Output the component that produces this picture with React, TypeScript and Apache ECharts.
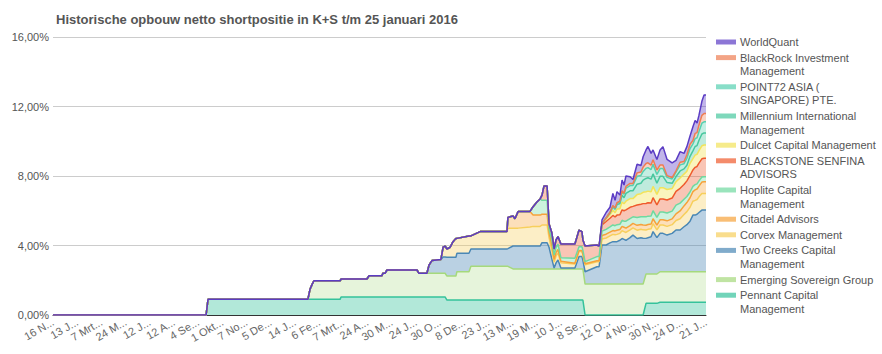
import React, { useEffect, useRef } from 'react';
import * as echarts from 'echarts';

const FONT = 'Arial, "Liberation Sans", Helvetica, sans-serif';

const chartTitle = 'Historische opbouw netto shortpositie in K+S t/m 25 januari 2016';

// Visible (truncated) date labels of the x axis, one per label step
const xTickLabels = [
  '16 N...', '13 J...', '7 Mrt...', '24 M...', '12 J...', '12 A...', '4 Se...', '1 Okt...',
  '7 No...', '5 De...', '14 J...', '6 Fe...', '7 Mrt...', '24 A...', '30 M...', '24 J...',
  '30 O...', '8 De...', '23 J...', '13 M...', '19 M...', '10 J...', '8 Se...', '12 O...',
  '4 No...', '30 N...', '24 D...', '21 J...',
];

// Position of each observation along the date axis (in label steps)
const datePos = [
  0, 6.33, 6.41, 10.54, 10.63, 10.71, 10.79, 11.87, 11.91, 12.98,
  13.07, 13.6, 13.64, 13.73, 13.81, 15.05, 15.13, 15.46, 15.55, 15.67,
  16.04, 16.13, 16.21, 16.29, 16.42, 16.54, 16.66, 16.7, 17.2, 17.28,
  17.66, 18.77, 18.81, 19.02, 19.1, 19.23, 19.72, 19.85, 20.01, 20.14,
  20.22, 20.3, 20.43, 20.51, 20.63, 20.72, 20.8, 20.88, 21.0, 21.58,
  21.75, 21.87, 21.91, 22.0, 22.49, 22.58, 22.7, 22.87, 23.03, 23.15,
  23.24, 23.32, 23.44, 23.53, 23.61, 23.69, 23.86, 23.98, 24.15, 24.31,
  24.4, 24.52, 24.6, 24.73, 24.81, 24.97, 25.1, 25.22, 25.39, 25.6,
  25.76, 25.93, 26.09, 26.21, 26.34, 26.46, 26.55, 26.63, 26.71, 26.83,
  26.92, 27.0,
];

// Net short position per holder (% of shares)
const pennant = [
  0, 0, 0.9, 0.9, 0.9, 0.9, 0.9, 0.9, 1.04, 1.04,
  1.04, 1.04, 1.04, 1.04, 1.04, 1.04, 1.04, 1.04, 1.04, 1.04,
  1.04, 1.04, 1.04, 0.86, 0.86, 0.86, 0.86, 0.86, 0.86, 0.86,
  0.86, 0.86, 0.86, 0.86, 0.86, 0.86, 0.86, 0.86, 0.86, 0.86,
  0.86, 0.86, 0.86, 0.86, 0.86, 0.86, 0.86, 0.86, 0.86, 0.86,
  0.86, 0.86, 0.86, 0, 0, 0, 0, 0, 0, 0,
  0, 0, 0, 0, 0, 0, 0, 0, 0, 0,
  0, 0.67, 0.67, 0.67, 0.67, 0.67, 0.73, 0.73, 0.73, 0.73,
  0.73, 0.73, 0.73, 0.73, 0.73, 0.73, 0.73, 0.73, 0.73, 0.73,
  0.73, 0.73,
];
const emerging = [
  0, 0, 0, 0, 0.6, 0.85, 1.07, 1.07, 1.03, 1.03,
  1.22, 1.22, 1.36, 1.36, 1.55, 1.55, 1.36, 1.36, 1.36, 1.36,
  1.36, 1.36, 1.36, 1.38, 1.38, 1.38, 1.38, 1.63, 1.63, 1.94,
  1.94, 1.94, 1.94, 1.79, 1.79, 1.79, 1.79, 1.79, 1.79, 1.79,
  1.79, 1.79, 1.79, 1.79, 1.79, 1.79, 1.79, 1.79, 1.79, 1.79,
  1.79, 1.79, 1.79, 1.78, 1.78, 1.78, 1.78, 1.78, 1.78, 1.78,
  1.78, 1.78, 1.78, 1.78, 1.78, 1.78, 1.78, 1.78, 1.78, 1.78,
  1.78, 1.69, 1.69, 1.69, 1.69, 1.69, 1.76, 1.76, 1.76, 1.76,
  1.76, 1.76, 1.76, 1.76, 1.76, 1.76, 1.76, 1.76, 1.76, 1.76,
  1.76, 1.76,
];
const twoCreeks = [
  0, 0, 0, 0, 0, 0, 0, 0, 0, 0,
  0, 0, 0, 0, 0, 0, 0, 0, 0.48, 0.73,
  0.8, 0.94, 0.94, 1.08, 1.08, 1.08, 1.08, 1.06, 1.06, 1.0,
  1.0, 1.0, 1.02, 1.32, 1.32, 1.32, 1.32, 1.32, 1.32, 1.32,
  1.51, 1.51, 1.51, 1.25, 0.55, 0.05, 0.35, 0.52, 0.05, 0.05,
  0.71, 0.71, 0.5, 0.71, 1.0, 1.0, 2.25, 2.25, 2.37, 2.44,
  2.44, 2.44, 2.52, 2.62, 2.57, 2.52, 2.67, 2.82, 2.62, 2.67,
  2.64, 2.05, 2.09, 2.14, 2.44, 2.09, 2.21, 2.21, 2.11, 2.21,
  2.4, 2.4, 2.59, 2.71, 2.91, 3.26, 3.26, 3.31, 3.41, 3.55,
  3.55, 3.55,
];
const corvex = [
  0, 0, 0, 0, 0, 0, 0, 0, 0, 0,
  0, 0, 0, 0, 0, 0, 0, 0, 0, 0,
  0, 0.56, 0.63, 0.48, 0.58, 0.9, 1.09, 0.86, 1.0, 0.75,
  1.0, 1.0, 1.18, 1.03, 1.03, 1.03, 1.09, 1.13, 1.13, 1.13,
  1.02, 1.02, 1.02, 0.55, 0.5, 0.35, 0.4, 0.4, 0.3, 0.23,
  0.3, 0.3, 0.3, 0.4, 0.29, 0.29, 0.35, 0.4, 0.4, 0.42,
  0.4, 0.42, 0.4, 0.45, 0.45, 0.45, 0.45, 0.42, 0.48, 0.48,
  0.48, 0.48, 0.48, 0.46, 0.46, 0.45, 0.48, 0.48, 0.5, 0.5,
  0.55, 0.65, 0.7, 0.75, 0.8, 0.8, 0.85, 0.85, 0.9, 0.95,
  0.96, 0.96,
];
const citadel = [
  0, 0, 0, 0, 0, 0, 0, 0, 0, 0,
  0, 0, 0, 0, 0, 0, 0, 0, 0, 0,
  0, 0, 0, 0, 0, 0, 0, 0, 0, 0,
  0, 0, 0.62, 0.7, 0.54, 0.95, 0.9, 0.65, 0.65, 0.65,
  0.62, 0.62, 0.62, 0.3, 0.3, 0.15, 0.2, 0.2, 0.1, 0.05,
  0.05, 0.05, 0.05, 0.06, 0.05, 0.05, 0.2, 0.22, 0.22, 0.22,
  0.22, 0.24, 0.22, 0.25, 0.25, 0.25, 0.25, 0.25, 0.28, 0.28,
  0.28, 0.28, 0.28, 0.28, 0.28, 0.27, 0.3, 0.3, 0.32, 0.33,
  0.38, 0.45, 0.5, 0.52, 0.55, 0.55, 0.6, 0.6, 0.62, 0.66,
  0.67, 0.67,
];
const hoplite = [
  0, 0, 0, 0, 0, 0, 0, 0, 0, 0,
  0, 0, 0, 0, 0, 0, 0, 0, 0, 0,
  0, 0, 0, 0, 0, 0, 0, 0, 0, 0,
  0, 0, 0, 0, 0, 0, 0, 0.48, 0.75, 0.93,
  0.8, 0.8, 0.8, 0.2, 0.3, 0.25, 0.3, 0.3, 0.2, 0.28,
  0.22, 0.22, 0.22, 0.12, 0.24, 0.24, 0.25, 0.28, 0.3, 0.32,
  0.3, 0.32, 0.3, 0.35, 0.35, 0.4, 0.4, 0.38, 0.45, 0.45,
  0.48, 0.48, 0.48, 0.46, 0.46, 0.45, 0.45, 0.45, 0.45, 0.45,
  0.5, 0.45, 0.38, 0.35, 0.33, 0.3, 0.3, 0.3, 0.3, 0.29,
  0.29, 0.29,
];
const blackstone = [
  0, 0, 0, 0, 0, 0, 0, 0, 0, 0,
  0, 0, 0, 0, 0, 0, 0, 0, 0, 0,
  0, 0, 0, 0, 0, 0, 0, 0, 0, 0,
  0, 0, 0, 0, 0, 0, 0, 0, 0, 0,
  0.3, 0.82, 0.82, 0.3, 0.4, 0.35, 0.42, 0.44, 0.79, 0.83,
  0.96, 0.87, 0.6, 0.9, 0.67, 0.6, 0.35, 0.45, 0.5, 0.55,
  0.5, 0.55, 0.55, 0.6, 0.6, 0.65, 0.65, 0.6, 0.72, 0.72,
  0.75, 0.77, 0.77, 0.75, 0.75, 0.72, 0.75, 0.75, 0.75, 0.75,
  0.8, 0.85, 0.85, 0.9, 0.95, 0.95, 1.0, 1.0, 1.02, 1.05,
  1.06, 1.06,
];
const dulcet = [
  0, 0, 0, 0, 0, 0, 0, 0, 0, 0,
  0, 0, 0, 0, 0, 0, 0, 0, 0, 0,
  0, 0, 0, 0, 0, 0, 0, 0, 0, 0,
  0, 0, 0, 0, 0, 0, 0, 0, 0, 0,
  0, 0, 0, 0, 0, 0, 0, 0, 0, 0,
  0, 0, 0, 0, 0, 0, 0.1, 0.15, 0.2, 0.3,
  0.25, 0.35, 0.35, 0.45, 0.4, 0.5, 0.5, 0.45, 0.6, 0.6,
  0.65, 0.67, 0.67, 0.65, 0.65, 0.6, 0.65, 0.65, 0.6, 0.55,
  0.55, 0.6, 0.6, 0.55, 0.7, 0.65, 0.7, 0.7, 0.72, 0.75,
  0.76, 0.76,
];
const millennium = [
  0, 0, 0, 0, 0, 0, 0, 0, 0, 0,
  0, 0, 0, 0, 0, 0, 0, 0, 0, 0,
  0, 0, 0, 0, 0, 0, 0, 0, 0, 0,
  0, 0, 0, 0, 0, 0, 0, 0, 0, 0,
  0, 0, 0, 0, 0, 0, 0, 0, 0, 0,
  0, 0, 0, 0, 0, 0, 0, 0.05, 0.1, 0.2,
  0.2, 0.25, 0.3, 0.4, 0.35, 0.45, 0.45, 0.45, 0.6, 0.6,
  0.7, 0.77, 0.77, 0.72, 0.72, 0.65, 0.65, 0.65, 0.4, 0.3,
  0.3, 0.4, 0.3, 0.35, 0.4, 0.45, 0.5, 0.5, 0.6, 0.68,
  0.7, 0.7,
];
const point72 = [
  0, 0, 0, 0, 0, 0, 0, 0, 0, 0,
  0, 0, 0, 0, 0, 0, 0, 0, 0, 0,
  0, 0, 0, 0, 0, 0, 0, 0, 0, 0,
  0, 0, 0, 0, 0, 0, 0, 0, 0, 0,
  0, 0, 0, 0, 0, 0, 0, 0, 0, 0,
  0, 0, 0, 0, 0, 0, 0, 0, 0.03, 0.05,
  0.05, 0.08, 0.1, 0.2, 0.2, 0.3, 0.3, 0.3, 0.45, 0.45,
  0.5, 0.58, 0.58, 0.55, 0.55, 0.5, 0.45, 0.45, 0.3, 0.25,
  0.25, 0.35, 0.3, 0.4, 0.45, 0.4, 0.45, 0.45, 0.5, 0.62,
  0.64, 0.64,
];
const blackRock = [
  0, 0, 0, 0, 0, 0, 0, 0, 0, 0,
  0, 0, 0, 0, 0, 0, 0, 0, 0, 0,
  0, 0, 0, 0, 0, 0, 0, 0, 0, 0,
  0, 0, 0, 0, 0, 0, 0, 0, 0, 0,
  0, 0, 0, 0, 0, 0, 0, 0, 0, 0,
  0, 0, 0, 0, 0, 0, 0, 0, 0, 0.02,
  0.02, 0.03, 0.03, 0.05, 0.05, 0.1, 0.12, 0.12, 0.2, 0.2,
  0.25, 0.28, 0.28, 0.26, 0.26, 0.25, 0.2, 0.2, 0.1, 0.08,
  0.08, 0.15, 0.12, 0.2, 0.25, 0.19, 0.3, 0.3, 0.38, 0.45,
  0.48, 0.48,
];
const worldQuant = [
  0, 0, 0, 0, 0, 0, 0, 0, 0, 0,
  0, 0, 0, 0, 0, 0, 0, 0, 0, 0,
  0, 0, 0, 0, 0, 0, 0, 0, 0, 0,
  0, 0, 0, 0, 0, 0, 0, 0, 0, 0,
  0, 0, 0, 0, 0, 0, 0, 0, 0, 0,
  0, 0, 0, 0, 0, 0, 0.19, 0.32, 0.3, 0.7,
  0.44, 0.64, 0.35, 0.62, 0.48, 0.6, 0.39, 0.23, 0.5, 0.37,
  0.6, 0.78, 0.94, 0.67, 0.57, 0.61, 0.87, 1.06, 0.93, 0.84,
  0.6, 0.61, 0.47, 0.47, 0.47, 0.8, 0.75, 0.55, 0.56, 0.81,
  1.06, 1.06,
];

// Stack order: bottom to top
const seriesNames = [
  'Pennant Capital Management',
  'Emerging Sovereign Group',
  'Two Creeks Capital Management',
  'Corvex Management',
  'Citadel Advisors',
  'Hoplite Capital Management',
  'BLACKSTONE SENFINA ADVISORS',
  'Dulcet Capital Management',
  'Millennium International Management',
  'POINT72 ASIA ( SINGAPORE) PTE.',
  'BlackRock Investment Management',
  'WorldQuant',
];
const legendLabels = [
  'Pennant Capital\nManagement',
  'Emerging Sovereign Group',
  'Two Creeks Capital\nManagement',
  'Corvex Management',
  'Citadel Advisors',
  'Hoplite Capital\nManagement',
  'BLACKSTONE SENFINA\nADVISORS',
  'Dulcet Capital Management',
  'Millennium International\nManagement',
  'POINT72 ASIA (\nSINGAPORE) PTE.',
  'BlackRock Investment\nManagement',
  'WorldQuant',
];
const lineColors = [
  '#35c29b', '#a5d97c', '#4a87b5', '#f7cf5c', '#f6a23a', '#6fd9a0',
  '#ef5a2c', '#f2e35a', '#47c79e', '#55d0b0', '#ee7d52', '#5b3cc4',
];
const fillOpacity = [0.38, 0.28, 0.38, 0.35, 0.35, 0.35, 0.35, 0.4, 0.35, 0.35, 0.35, 0.38];

export default function App() {
  const ref = useRef<HTMLDivElement>(null);

  useEffect(() => {
    if (!ref.current) return;
    const chart = echarts.init(ref.current, null, { renderer: 'svg' });
    const seriesValues = [
      pennant, emerging, twoCreeks, corvex, citadel, hoplite,
      blackstone, dulcet, millennium, point72, blackRock, worldQuant,
    ];

    const series = seriesValues.map((vals, s) => ({
      name: seriesNames[s],
      type: 'line',
      stack: 'positions',
      data: datePos.map((x, k) => [vals[k], x]),
      encode: { x: 1, y: 0 },
      showSymbol: false,
      symbol: 'none',
      lineStyle: { width: 1.5, color: lineColors[s] },
      itemStyle: { color: lineColors[s] },
      areaStyle: { color: lineColors[s], opacity: fillOpacity[s] },
      emphasis: { disabled: true },
      silent: true,
    }));

    const legendEls: any[] = [];
    let yc = 42;
    for (let s = seriesNames.length - 1; s >= 0; s--) {
      const lines = legendLabels[s].split('\n').length;
      legendEls.push({
        type: 'rect',
        x: 716,
        y: yc - 2.5,
        shape: { x: 0, y: 0, width: 20, height: 5 },
        style: { fill: lineColors[s], opacity: 0.7 },
        silent: true,
      });
      legendEls.push({
        type: 'text',
        x: 740,
        y: yc - 6.8,
        style: {
          text: legendLabels[s],
          fill: '#555',
          fontSize: 11,
          fontFamily: FONT,
          lineHeight: 13.6,
          verticalAlign: 'top',
          align: 'left',
        },
        silent: true,
      });
      yc += lines * 13.6 + 2;
    }

    chart.setOption({
      animation: false,
      textStyle: { fontFamily: FONT },
      title: {
        text: chartTitle,
        left: 51,
        top: 8,
        textStyle: { fontSize: 13, fontWeight: 'bold', color: '#555', fontFamily: FONT },
      },
      grid: { left: 53, right: 176, top: 37, bottom: 39, containLabel: false },
      xAxis: {
        type: 'value',
        min: 0,
        max: 27,
        interval: 1,
        axisLine: { show: true, lineStyle: { color: '#333', width: 1 } },
        axisTick: { show: false },
        splitLine: { show: false },
        axisLabel: {
          rotate: 30,
          margin: 6,
          fontSize: 11,
          color: '#666',
          fontFamily: FONT,
          formatter: (v: number) => xTickLabels[Math.round(v)] ?? '',
        },
      },
      yAxis: {
        type: 'value',
        min: 0,
        max: 16,
        interval: 4,
        axisLine: { show: false },
        axisTick: { show: false },
        splitLine: { lineStyle: { color: '#cccccc', width: 1 } },
        axisLabel: {
          margin: 4,
          fontSize: 11,
          color: '#555',
          fontFamily: FONT,
          formatter: (v: number) => v.toFixed(2).replace('.', ',') + '%',
        },
      },
      series,
      graphic: legendEls,
    });

    return () => chart.dispose();
  }, []);

  return (
    <div
      ref={ref}
      style={{ position: 'absolute', left: 0, top: 0, width: 882, height: 354 }}
    />
  );
}
